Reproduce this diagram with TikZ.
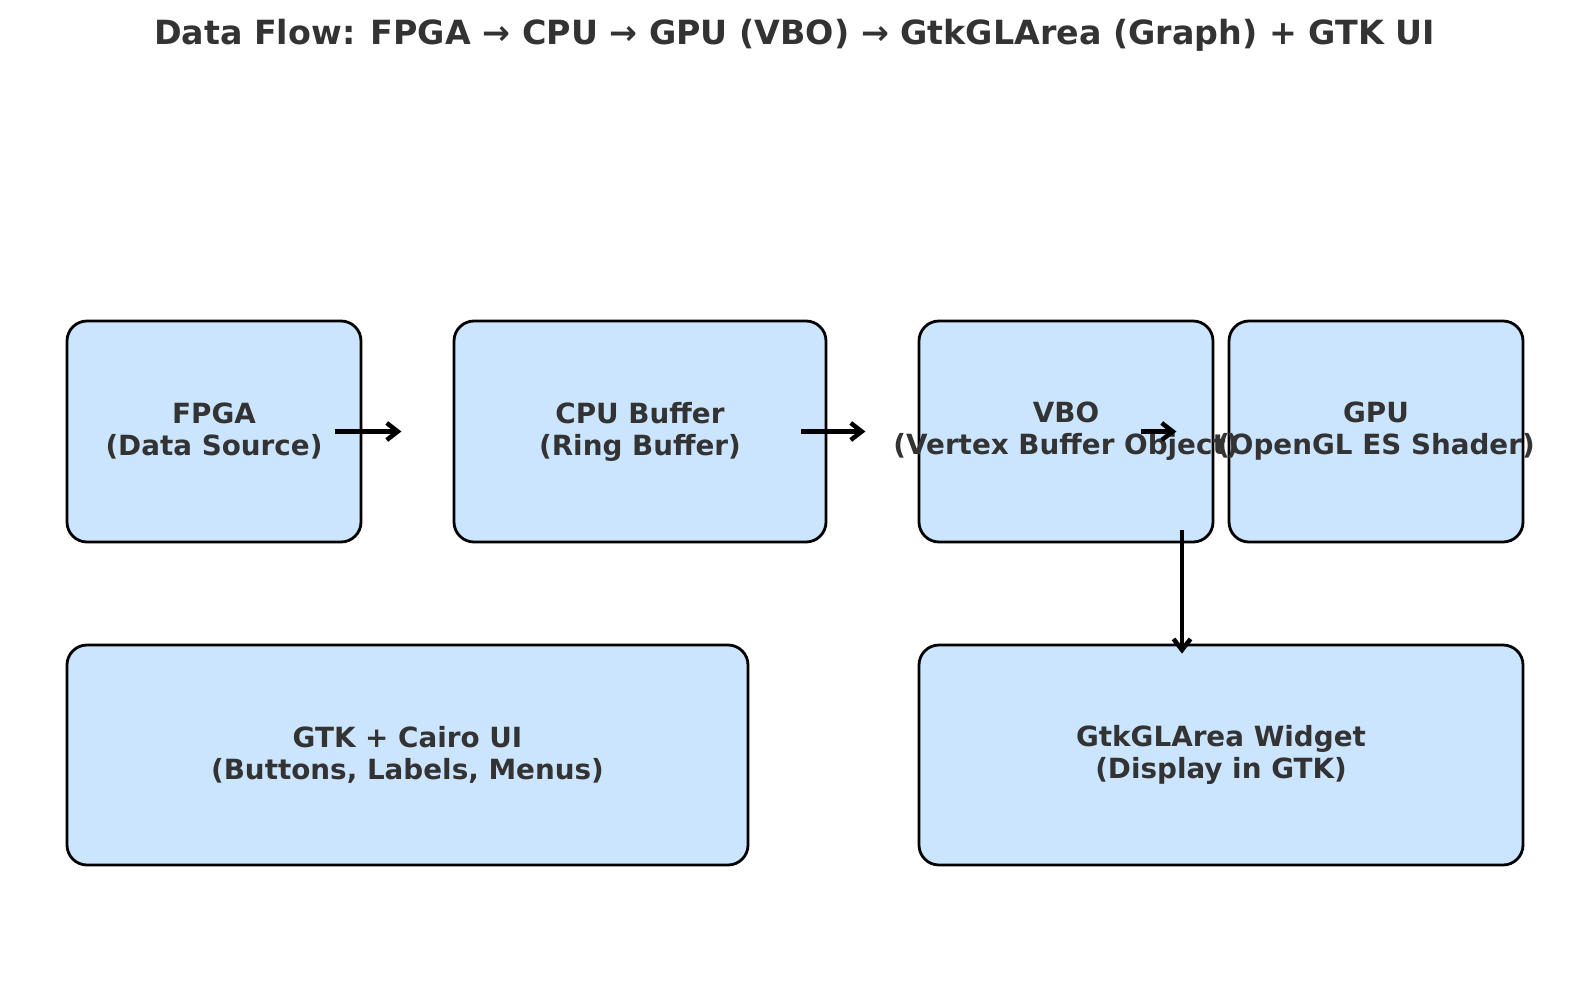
\documentclass[tikz,border=0pt]{standalone}
\usepackage{fontspec}
\setmainfont{DejaVu Sans}
\usepackage{tikz}
\usetikzlibrary{arrows.meta}

\definecolor{boxblue}{HTML}{CCE5FF}
\definecolor{txtgray}{HTML}{333333}

\begin{document}
\begin{tikzpicture}[x=1pt,y=-1pt,
  blk/.style={draw=black,fill=boxblue,line width=2.8pt,rounded corners=20pt,inner sep=0pt},
  blktxt/.style={text=txtgray,font=\fontsize{27.8}{32}\selectfont\bfseries,align=center,inner sep=0pt},
  flow/.style={-{Straight Barb[length=11pt,width=17pt,line width=4.5pt]},line width=4.5pt}]
\useasboundingbox (0,0) rectangle (1589,1006);
% title
\node[text=txtgray,font=\fontsize{33.3}{40}\selectfont\bfseries] (title) at (794.5,35.5)
  {Data Flow: FPGA → CPU → GPU (VBO) → GtkGLArea (Graph) + GTK UI};
% top row
\node[blk,minimum width=294pt,minimum height=221pt] (fpga) at (214,431.5) {};
\node[blk,minimum width=372pt,minimum height=221pt] (cpu) at (640,431.5) {};
\node[blk,minimum width=294pt,minimum height=221pt] (vbo) at (1066,431.5) {};
\node[blk,minimum width=294pt,minimum height=221pt] (gpu) at (1376,431.5) {};
% bottom row
\node[blk,minimum width=681pt,minimum height=220pt] (gtkui) at (407.5,755) {};
\node[blk,minimum width=604pt,minimum height=220pt] (glarea) at (1221,755) {};
\node[blktxt] at (fpga) {FPGA\\(Data Source)};
\node[blktxt] at (cpu) {CPU Buffer\\(Ring Buffer)};
\node[blktxt] at (vbo) {VBO\\(Vertex Buffer Object)};
\node[blktxt] at (gpu) {GPU\\(OpenGL ES Shader)};
\node[blktxt] at (gtkui) {GTK + Cairo UI\\(Buttons, Labels, Menus)};
\node[blktxt] at (glarea) {GtkGLArea Widget\\(Display in GTK)};
% arrows
\draw[flow] ([xshift=-27pt]fpga.east) -- ([xshift=39pt]fpga.east);
\draw[flow] ([xshift=-26pt]cpu.east) -- ([xshift=38pt]cpu.east);
\draw[flow] ([xshift=-73pt]vbo.east) -- ([xshift=-38pt]vbo.east);
\draw[flow] ([xshift=116pt,yshift=13pt]vbo.south) -- ([xshift=-39pt,yshift=-10pt]glarea.north);
\end{tikzpicture}
\end{document}
